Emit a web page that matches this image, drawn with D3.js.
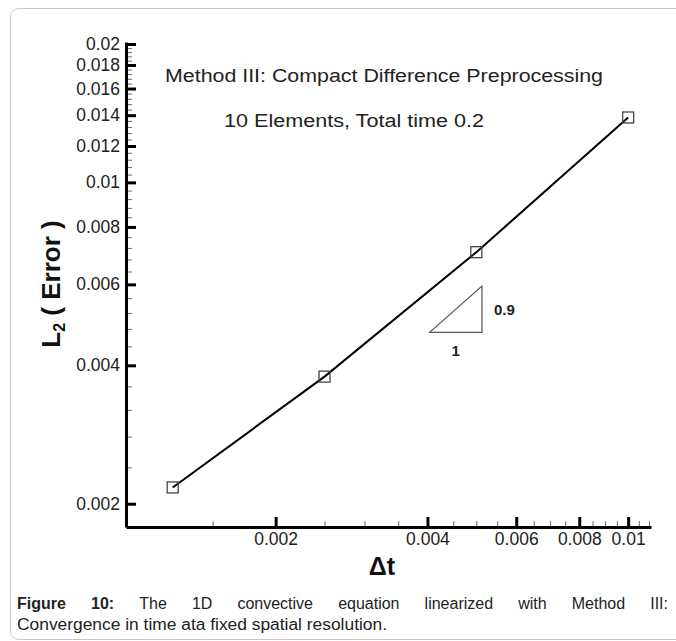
<!DOCTYPE html>
<html>
<head>
<meta charset="utf-8">
<script src="https://cdn.jsdelivr.net/npm/d3@7"></script>
<style>
    body { margin: 0; background: #fff; }
    svg { display: block; font-family: Arial, "Liberation Sans", sans-serif; }
</style>
</head>
<body>
<div id="chart"></div>
<script>
// time step sizes and L2 errors
const dtValues = [0.00125, 0.0025, 0.005, 0.01];
const errValues = [0.00217, 0.00378, 0.00705, 0.01384];

// slope triangle (data coords)
const triX = [0.00404, 0.00513];
const triY = [0.00472, 0.00595];

const xTickValues = [0.002, 0.004, 0.006, 0.008, 0.01];
const xTickLabels = ['0.002', '0.004', '0.006', '0.008', '0.01'];
const yTickValues = [0.002, 0.004, 0.006, 0.008, 0.01, 0.012, 0.014, 0.016, 0.018, 0.02];
const yTickLabels = ['0.002', '0.004', '0.006', '0.008', '0.01', '0.012', '0.014', '0.016', '0.018', '0.02'];

const titleLines = ['Method III: Compact Difference Preprocessing', '10 Elements, Total time 0.2'];
const captionBold = 'Figure 10:';
const captionLine1 = 'The 1D convective equation linearized with Method III:';
const captionLine2 = 'Convergence in time ata fixed spatial resolution.';

const dims = { width: 676, height: 641, left: 126, right: 651, top: 42, bottom: 527 };

const svg = d3.select('#chart')
    .append('svg')
    .attr('width', dims.width)
    .attr('height', dims.height);

/* card border */
svg.append('rect')
    .attr('x', 10.5).attr('y', 8.5)
    .attr('width', 700).attr('height', 631)
    .attr('rx', 8)
    .attr('fill', 'none')
    .attr('stroke', '#c9c9c9');

const x = d3.scaleLog().domain([0.00101, 0.0111]).range([dims.left, dims.right]);
const y = d3.scaleLog().domain([0.00178, 0.0202]).range([dims.bottom, dims.top]);

// minor ticks, 0.0005 on x and 0.0004 on y
const xMinor = d3.range(3, 23).map(i => i * 0.0005)
    .filter(v => !xTickValues.some(t => Math.abs(t - v) < 1e-9) && v < 0.0111);
const yMinor = d3.range(6, 50).map(i => i * 0.0004)
    .filter(v => !yTickValues.some(t => Math.abs(t - v) < 1e-9) && v < 0.0202);

/* minor ticks */
svg.append('g')
    .attr('transform', `translate(${dims.left},0)`)
    .call(d3.axisLeft(y).tickValues(yMinor).tickSize(-6).tickFormat(''))
    .call(g => g.select('.domain').remove())
    .selectAll('.tick line').attr('stroke', '#777').attr('stroke-width', 1.1);

svg.append('g')
    .attr('transform', `translate(0,${dims.bottom})`)
    .call(d3.axisBottom(x).tickValues(xMinor).tickSize(-6).tickFormat(''))
    .call(g => g.select('.domain').remove())
    .selectAll('.tick line').attr('stroke', '#777').attr('stroke-width', 1.1);

/* major ticks + labels */
const gY = svg.append('g')
    .attr('transform', `translate(${dims.left},0)`)
    .call(d3.axisLeft(y).tickValues(yTickValues).tickSize(-10).tickSizeOuter(0)
        .tickPadding(6).tickFormat((d, i) => yTickLabels[i]));
gY.select('.domain').attr('stroke-width', 3);
gY.selectAll('.tick line').attr('stroke-width', 3);
gY.selectAll('.tick text').attr('font-size', 17.5).attr('fill', '#222')
    .attr('font-family', 'Arial, "Liberation Sans", sans-serif');

const gX = svg.append('g')
    .attr('transform', `translate(0,${dims.bottom})`)
    .call(d3.axisBottom(x).tickValues(xTickValues).tickSize(-10).tickSizeOuter(0)
        .tickPadding(6).tickFormat((d, i) => xTickLabels[i]));
gX.select('.domain').attr('stroke-width', 3);
gX.selectAll('.tick line').attr('stroke-width', 3);
gX.selectAll('.tick text').attr('font-size', 17.5).attr('fill', '#222')
    .attr('font-family', 'Arial, "Liberation Sans", sans-serif');

/* data line */
const data = dtValues.map((d, i) => ({ dt: d, err: errValues[i] }));

svg.append('path')
    .datum(data)
    .attr('d', d3.line().x(d => x(d.dt)).y(d => y(d.err)))
    .attr('fill', 'none')
    .attr('stroke', '#000')
    .attr('stroke-width', 2);

const sq = 11;
svg.selectAll('.marker')
    .data(data)
    .join('rect')
    .attr('class', 'marker')
    .attr('x', d => x(d.dt) - sq / 2)
    .attr('y', d => y(d.err) - sq / 2)
    .attr('width', sq)
    .attr('height', sq)
    .attr('fill', 'none')
    .attr('stroke', '#444')
    .attr('stroke-width', 1.3);

/* slope triangle */
svg.append('path')
    .attr('d', `M${x(triX[0])},${y(triY[0])}L${x(triX[1])},${y(triY[0])}L${x(triX[1])},${y(triY[1])}Z`)
    .attr('fill', 'none')
    .attr('stroke', '#555')
    .attr('stroke-width', 1.2);

svg.append('text')
    .attr('x', x(triX[1]) + 12)
    .attr('y', (y(triY[0]) + y(triY[1])) / 2 + 6)
    .attr('font-size', 15).attr('font-weight', 'bold').attr('fill', '#222')
    .text('0.9');

svg.append('text')
    .attr('x', (x(triX[0]) + x(triX[1])) / 2)
    .attr('y', y(triY[0]) + 24)
    .attr('text-anchor', 'middle')
    .attr('font-size', 15).attr('font-weight', 'bold').attr('fill', '#222')
    .text('1');

/* titles inside the plot */
svg.append('text')
    .attr('x', 165).attr('y', 82)
    .attr('font-size', 18).attr('fill', '#222')
    .attr('textLength', 438).attr('lengthAdjust', 'spacingAndGlyphs')
    .text(titleLines[0]);

svg.append('text')
    .attr('x', 224).attr('y', 127)
    .attr('font-size', 18).attr('fill', '#222')
    .attr('textLength', 260).attr('lengthAdjust', 'spacingAndGlyphs')
    .text(titleLines[1]);

/* axis titles */
const yLab = svg.append('text')
    .attr('transform', 'translate(60,284) rotate(-90)')
    .attr('text-anchor', 'middle')
    .attr('font-size', 26).attr('font-weight', 'bold').attr('fill', '#111');
yLab.append('tspan').text('L');
yLab.append('tspan').attr('font-size', 16).attr('dy', 5).text('2');
yLab.append('tspan').attr('dy', -5).text(' ( Error )');

svg.append('text')
    .attr('x', 382).attr('y', 575)
    .attr('text-anchor', 'middle')
    .attr('font-size', 25).attr('font-weight', 'bold').attr('fill', '#111')
    .text('\u0394t');

/* caption, first line justified */
const capLeft = 17, capRight = 668;
const line1 = svg.append('text').attr('y', 609).attr('font-size', 16).attr('fill', '#222');
const words = [captionBold.split(' '), captionLine1.split(' ')];
const spans = [];
words[0].forEach(w => spans.push(line1.append('tspan').attr('font-weight', 'bold').text(w)));
words[1].forEach(w => spans.push(line1.append('tspan').text(w)));
const widths = spans.map(s => s.node().getComputedTextLength());
const gap = (capRight - capLeft - d3.sum(widths)) / (spans.length - 1);
let cx = capLeft;
spans.forEach((s, i) => {
    s.attr('x', cx);
    cx += widths[i] + gap;
});

svg.append('text')
    .attr('x', capLeft).attr('y', 630)
    .attr('font-size', 16).attr('fill', '#222')
    .attr('textLength', 370).attr('lengthAdjust', 'spacingAndGlyphs')
    .text(captionLine2);
</script>
</body>
</html>
